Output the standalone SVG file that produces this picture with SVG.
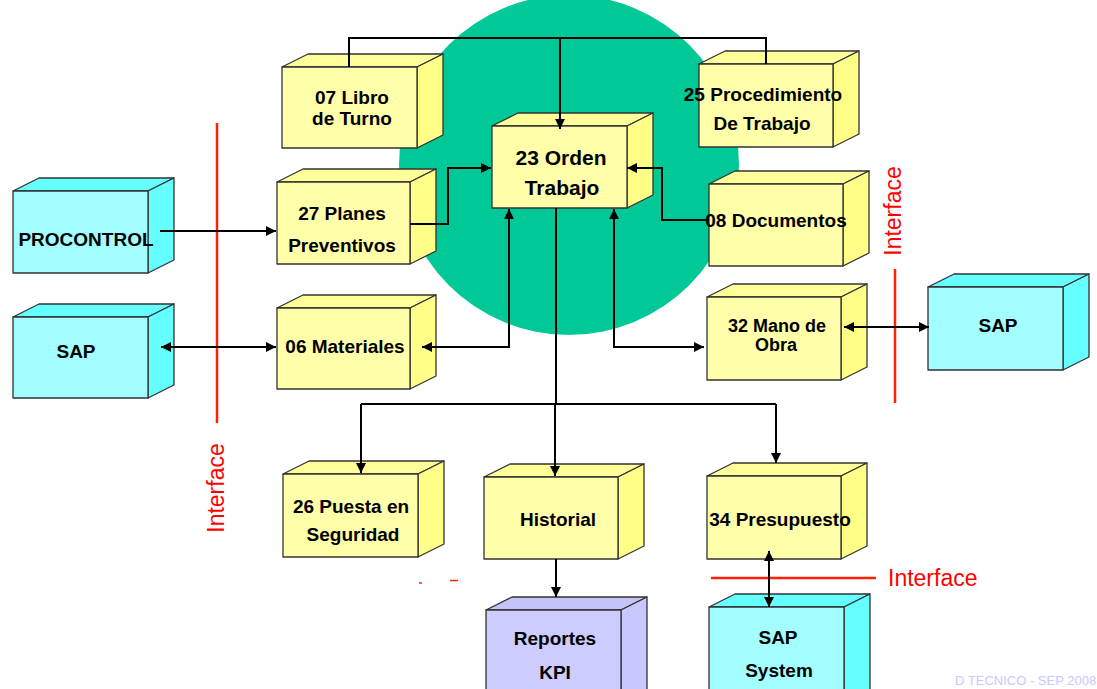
<svg xmlns="http://www.w3.org/2000/svg" width="1097" height="689" viewBox="0 0 1097 689">
  <defs>
    <marker id="arrow" viewBox="0 0 10 10" refX="10" refY="5" markerWidth="10" markerHeight="10" markerUnits="userSpaceOnUse" orient="auto-start-reverse">
      <path d="M0,0 L10,5 L0,10 z" fill="#000"/>
    </marker>
  </defs>
  <style>
    .edge { fill: none; stroke: #000; stroke-width: 2; }
    .face { stroke: #333; stroke-width: 1.3; stroke-linejoin: round; }
    .y .front { fill: #FFFFAA; } .y .top { fill: #FFFF99; } .y .side { fill: #FFFF88; }
    .c .front { fill: #A3FFFF; } .c .top { fill: #66FFFF; } .c .side { fill: #66FFFF; }
    .l .front { fill: #CCCCFF; } .l .top { fill: #C4C4FA; } .l .side { fill: #C8C8FF; }
    .lbl { font-family: "Liberation Sans", Arial, sans-serif; font-weight: bold; font-size: 19px; fill: #000; text-anchor: middle; }
    .big { font-size: 21px; }
    .tight { font-size: 18px; }
    .iface { font-family: "Liberation Sans", Arial, sans-serif; font-size: 23px; fill: #FF0000; }
    .red { stroke: #FF2200; stroke-width: 2.5; fill: none; }
    .mark { font-family: "Liberation Sans", Arial, sans-serif; font-size: 13px; fill: #C8C8FF; }
  </style>

  <!-- central area -->
  <circle cx="569" cy="165" r="170" fill="#00C896"/>

  <!-- interface boundaries -->
  <g id="interfaces">
    <line class="red" x1="217" y1="123" x2="217" y2="423"/>
    <text class="iface" transform="translate(224,488) rotate(-90)" text-anchor="middle">Interface</text>
    <line class="red" x1="895" y1="269" x2="895" y2="403"/>
    <text class="iface" transform="translate(901,211) rotate(-90)" text-anchor="middle">Interface</text>
    <line class="red" x1="711" y1="578" x2="876" y2="578"/>
    <text class="iface" x="888" y="586">Interface</text>
    <line x1="419" y1="583" x2="422" y2="583" stroke="#FF2200" stroke-width="1.5"/>
    <line x1="450" y1="580.5" x2="458" y2="580.5" stroke="#FF2200" stroke-width="1.5"/>
  </g>

  <!-- nodes: front face, top face, side face; depth offset (26,-13) -->
  <g id="libro" class="y">
    <polygon class="face top" points="282,67 308,54 443,54 417,67"/>
    <polygon class="face side" points="417,67 443,54 443,135 417,148"/>
    <rect class="face front" x="282" y="67" width="135" height="81"/>
    <text class="lbl" x="352" y="104">07 Libro</text>
    <text class="lbl" x="352" y="125">de Turno</text>
  </g>

  <g id="orden" class="y">
    <polygon class="face top" points="492,126 518,113 653,113 627,126"/>
    <polygon class="face side" points="627,126 653,113 653,195 627,208"/>
    <rect class="face front" x="492" y="126" width="135" height="82"/>
    <text class="lbl big" x="561" y="165">23 Orden</text>
    <text class="lbl big" x="562" y="195">Trabajo</text>
  </g>

  <g id="procedimiento" class="y">
    <polygon class="face top" points="699,64 725,51 859,51 833,64"/>
    <polygon class="face side" points="833,64 859,51 859,134 833,147"/>
    <rect class="face front" x="699" y="64" width="134" height="83"/>
    <text class="lbl" x="763" y="101">25 Procedimiento</text>
    <text class="lbl" x="762" y="130">De Trabajo</text>
  </g>

  <g id="procontrol" class="c">
    <polygon class="face top" points="13,191 39,178 174,178 148,191"/>
    <polygon class="face side" points="148,191 174,178 174,260 148,273"/>
    <rect class="face front" x="13" y="191" width="135" height="82"/>
    <text class="lbl" x="86" y="246">PROCONTROL</text>
  </g>

  <g id="planes" class="y">
    <polygon class="face top" points="277,182 303,169 436,169 410,182"/>
    <polygon class="face side" points="410,182 436,169 436,251 410,264"/>
    <rect class="face front" x="277" y="182" width="133" height="82"/>
    <text class="lbl" x="342" y="220">27 Planes</text>
    <text class="lbl" x="342" y="252">Preventivos</text>
  </g>

  <g id="sap-left" class="c">
    <polygon class="face top" points="13,317 39,304 174,304 148,317"/>
    <polygon class="face side" points="148,317 174,304 174,385 148,398"/>
    <rect class="face front" x="13" y="317" width="135" height="81"/>
    <text class="lbl" x="76" y="358">SAP</text>
  </g>

  <g id="materiales" class="y">
    <polygon class="face top" points="277,308 303,295 436,295 410,308"/>
    <polygon class="face side" points="410,308 436,295 436,376 410,389"/>
    <rect class="face front" x="277" y="308" width="133" height="81"/>
    <text class="lbl" x="345" y="353">06 Materiales</text>
  </g>

  <g id="documentos" class="y">
    <polygon class="face top" points="709,184 735,171 869,171 843,184"/>
    <polygon class="face side" points="843,184 869,171 869,253 843,266"/>
    <rect class="face front" x="709" y="184" width="134" height="82"/>
    <text class="lbl" x="776" y="227">08 Documentos</text>
  </g>

  <g id="mano-obra" class="y">
    <polygon class="face top" points="707,297 733,284 867,284 841,297"/>
    <polygon class="face side" points="841,297 867,284 867,367 841,380"/>
    <rect class="face front" x="707" y="297" width="134" height="83"/>
    <text class="lbl tight" x="777" y="332">32 Mano de</text>
    <text class="lbl tight" x="776" y="351">Obra</text>
  </g>

  <g id="sap-right" class="c">
    <polygon class="face top" points="928,287 954,274 1089,274 1063,287"/>
    <polygon class="face side" points="1063,287 1089,274 1089,357 1063,370"/>
    <rect class="face front" x="928" y="287" width="135" height="83"/>
    <text class="lbl" x="998" y="332">SAP</text>
  </g>

  <g id="puesta" class="y">
    <polygon class="face top" points="283,474 309,461 444,461 418,474"/>
    <polygon class="face side" points="418,474 444,461 444,544 418,557"/>
    <rect class="face front" x="283" y="474" width="135" height="83"/>
    <text class="lbl" x="351" y="513">26 Puesta en</text>
    <text class="lbl" x="353" y="541">Seguridad</text>
  </g>

  <g id="historial" class="y">
    <polygon class="face top" points="484,477 510,464 644,464 618,477"/>
    <polygon class="face side" points="618,477 644,464 644,546 618,559"/>
    <rect class="face front" x="484" y="477" width="134" height="82"/>
    <text class="lbl" x="558" y="526">Historial</text>
  </g>

  <g id="presupuesto" class="y">
    <polygon class="face top" points="707,476 733,463 867,463 841,476"/>
    <polygon class="face side" points="841,476 867,463 867,546 841,559"/>
    <rect class="face front" x="707" y="476" width="134" height="83"/>
    <text class="lbl" x="780" y="526">34 Presupuesto</text>
  </g>

  <g id="sap-system" class="c">
    <polygon class="face top" points="709,607 735,594 870,594 844,607"/>
    <polygon class="face side" points="844,607 870,594 870,690 844,703"/>
    <rect class="face front" x="709" y="607" width="135" height="96"/>
    <text class="lbl" x="778" y="644">SAP</text>
    <text class="lbl" x="779" y="677">System</text>
  </g>

  <g id="reportes" class="l">
    <polygon class="face top" points="486,610 512,597 647,597 621,610"/>
    <polygon class="face side" points="621,610 647,597 647,690 621,703"/>
    <rect class="face front" x="486" y="610" width="135" height="96"/>
    <text class="lbl" x="555" y="645">Reportes</text>
    <text class="lbl" x="555" y="679">KPI</text>
  </g>

  <!-- connectors -->
  <g id="connectors">
    <polyline class="edge" points="349,67 349,38 766,38 766,64"/>
    <line class="edge" x1="560" y1="38" x2="560" y2="129" marker-end="url(#arrow)"/>
    <polyline class="edge" points="410,224 448,224 448,168 491,168" marker-end="url(#arrow)"/>
    <polyline class="edge" points="709,220 662,220 662,168 627,168" marker-end="url(#arrow)"/>
    <polyline class="edge" points="422,347 509,347 509,209" marker-start="url(#arrow)" marker-end="url(#arrow)"/>
    <polyline class="edge" points="614,209 614,347 704,347" marker-start="url(#arrow)" marker-end="url(#arrow)"/>
    <line class="edge" x1="160" y1="231" x2="276" y2="231" marker-end="url(#arrow)"/>
    <line class="edge" x1="161" y1="347" x2="276" y2="347" marker-start="url(#arrow)" marker-end="url(#arrow)"/>
    <line class="edge" x1="844" y1="327" x2="929" y2="327" marker-start="url(#arrow)" marker-end="url(#arrow)"/>
    <line class="edge" x1="556" y1="208" x2="556" y2="404"/>
    <line class="edge" x1="361" y1="404" x2="776" y2="404"/>
    <line class="edge" x1="361" y1="404" x2="361" y2="473" marker-end="url(#arrow)"/>
    <line class="edge" x1="555" y1="404" x2="555" y2="476" marker-end="url(#arrow)"/>
    <line class="edge" x1="776" y1="404" x2="776" y2="463" marker-end="url(#arrow)"/>
    <line class="edge" x1="556" y1="559" x2="556" y2="597" marker-end="url(#arrow)"/>
    <line class="edge" x1="769" y1="551" x2="769" y2="607" marker-start="url(#arrow)" marker-end="url(#arrow)"/>
  </g>

  <text class="mark" x="955" y="685">D TECNICO - SEP 2008</text>
</svg>
